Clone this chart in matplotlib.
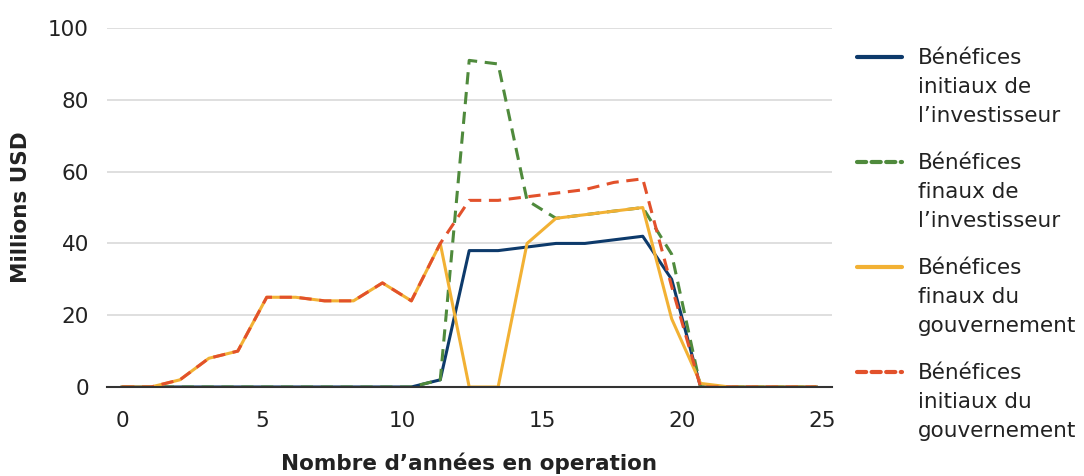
import numpy as np
import matplotlib.pyplot as plt
from matplotlib.lines import Line2D

plt.rcParams['font.family'] = ['DejaVu Sans']

# years in operation (25 yearly points spread over the 0-25 axis)
years = np.linspace(0, 24.8, 25)

investor_initial = [0, 0, 0, 0, 0, 0, 0, 0, 0, 0, 0, 2, 38, 38, 39, 40, 40, 41, 42, 30,
                    0, 0, 0, 0, 0]
investor_final = [0, 0, 0, 0, 0, 0, 0, 0, 0, 0, 0, 2, 91, 90, 52, 47, 48, 49, 50, 37,
                  0, 0, 0, 0, 0]
gov_final = [0, 0, 2, 8, 10, 25, 25, 24, 24, 29, 24, 40, 0, 0, 40, 47, 48, 49, 50, 19,
             1, 0, 0, 0, 0]
gov_initial = [0, 0, 2, 8, 10, 25, 25, 24, 24, 29, 24, 40, 52, 52, 53, 54, 55, 57, 58, 28,
               0, 0, 0, 0, 0]

labels = ["Bénéfices\ninitiaux de\nl’investisseur",
          "Bénéfices\nfinaux de\nl’investisseur",
          "Bénéfices\nfinaux du\ngouvernement",
          "Bénéfices\ninitiaux du\ngouvernement"]
colors = ['#0d3a6b', '#4f8a3c', '#f2b134', '#e2512b']
styles = ['-', '--', '-', '--']
TXT = '#222222'
FS = 15.5

fig = plt.figure(figsize=(10.84, 4.76), dpi=100)
ax = fig.add_axes([0.0987, 0.187, 0.6688, 0.754])

series = [investor_initial, investor_final, gov_final, gov_initial]
draw_order = [2, 0, 3, 1]
for i in draw_order:
    ax.plot(years, series[i], color=colors[i], linestyle=styles[i], lw=2.2,
            dashes=(4, 2.5) if styles[i] == '--' else (None, None), zorder=3 + i)

ax.set_xlim(-0.54, 25.36)
ax.set_ylim(0, 100)
ax.set_xticks([0, 5, 10, 15, 20, 25])
ax.set_yticks([0, 20, 40, 60, 80, 100])
ax.grid(axis='y', color='#d9d9d9', lw=1.2)
ax.set_axisbelow(True)
for s in ['top', 'right', 'left']:
    ax.spines[s].set_visible(False)
ax.spines['bottom'].set_color('#333333')
ax.spines['bottom'].set_linewidth(1.5)
ax.spines['bottom'].set_zorder(10)
ax.tick_params(length=0, labelsize=FS, colors=TXT)
ax.tick_params(axis='x', pad=17)
ax.tick_params(axis='y', pad=13)
ax.set_xlabel("Nombre d’années en operation", fontsize=FS, fontweight='bold',
              labelpad=16, color=TXT)
ax.set_ylabel("Millions USD", fontsize=FS, fontweight='bold', labelpad=12,
              color=TXT)

# legend drawn by hand so the handle sits on the first text line
top_y = 1 - 57 / 476
step = 105 / 476
for i in range(4):
    y = top_y - i * step
    fig.add_artist(Line2D([857 / 1084, 902 / 1084], [y, y], color=colors[i],
                          lw=3, linestyle=styles[i],
                          dashes=(2.2, 1.3) if styles[i] == '--' else (None, None),
                          solid_capstyle='round', dash_capstyle='round'))
    fig.text(918 / 1084, y + 9 / 476, labels[i], fontsize=FS, va='top', ha='left',
             linespacing=1.55, color=TXT)

fig.savefig("out.png", dpi=100)
